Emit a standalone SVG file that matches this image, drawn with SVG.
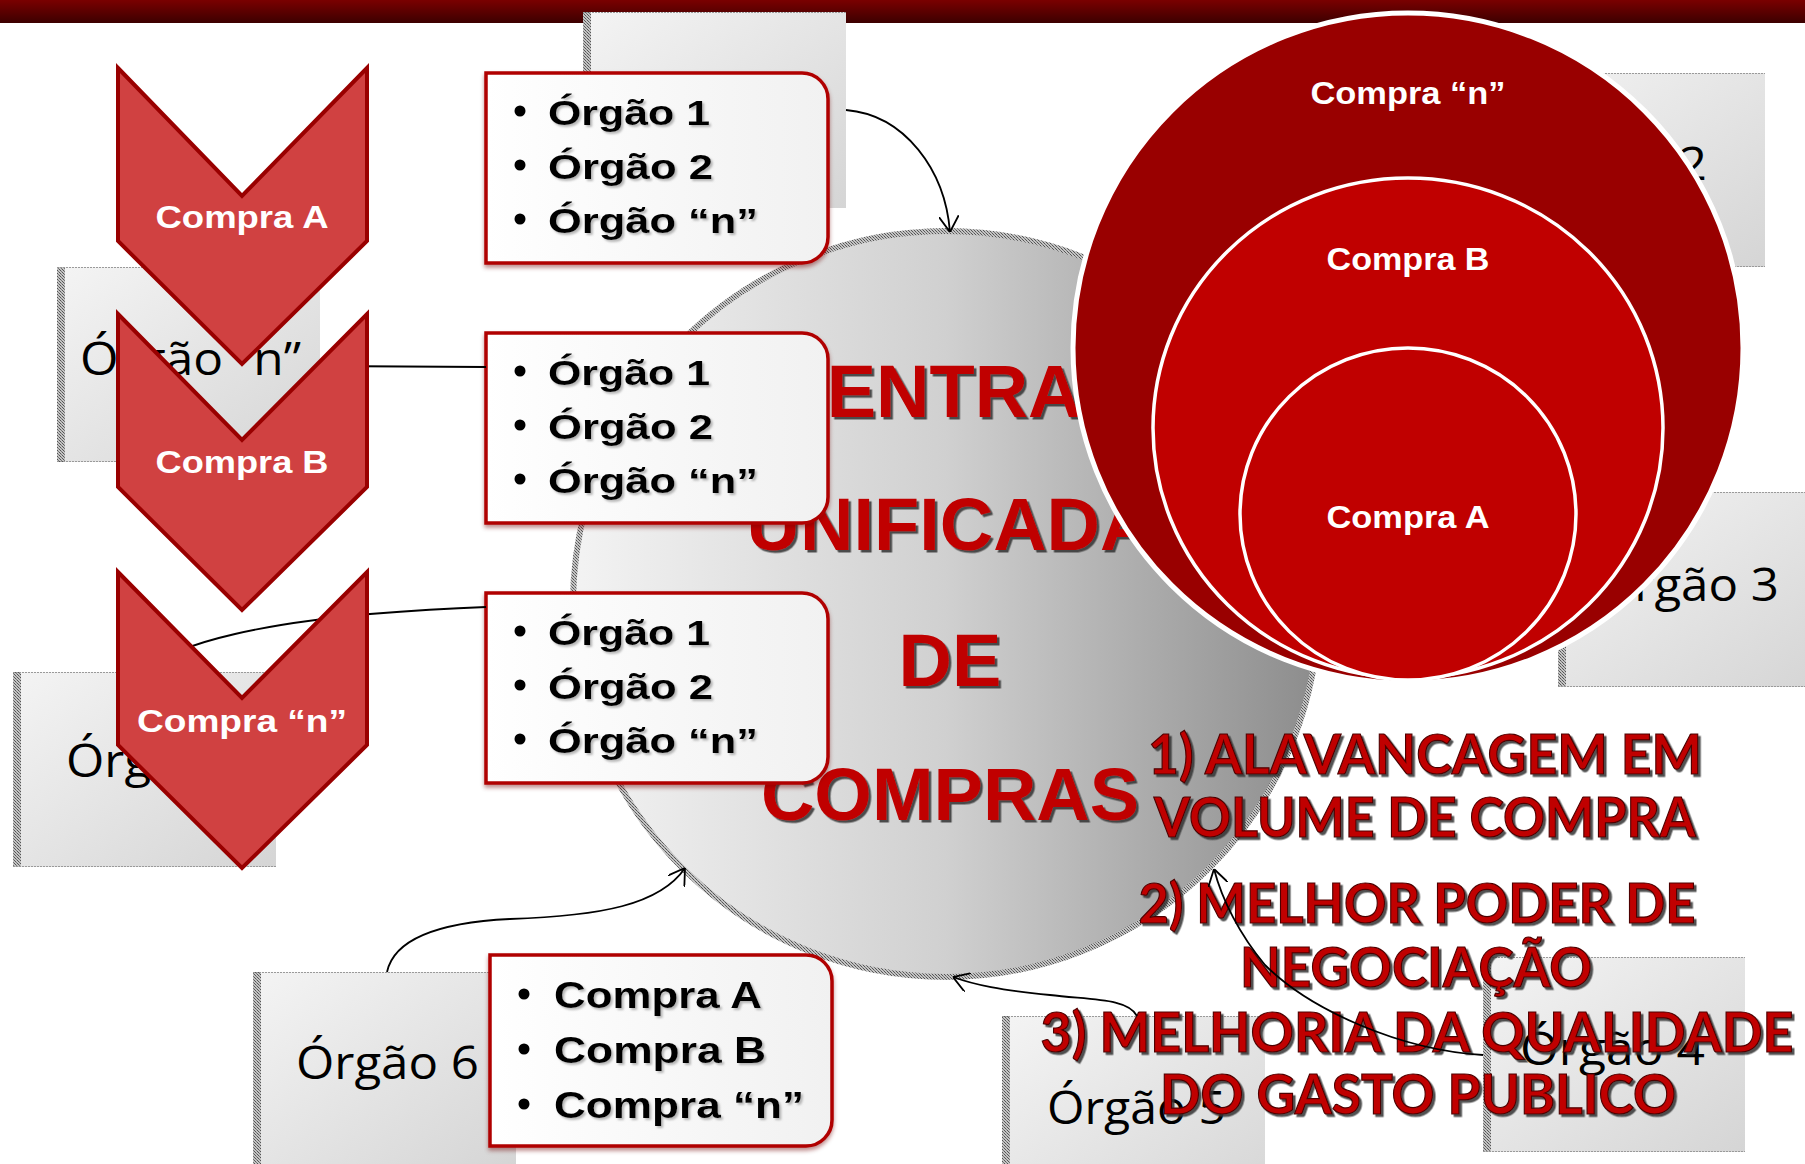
<svg xmlns="http://www.w3.org/2000/svg" width="1805" height="1164" viewBox="0 0 1805 1164">
<defs>
  <linearGradient id="barGrad" x1="0" y1="0" x2="0" y2="1">
    <stop offset="0" stop-color="#7a0000"/>
    <stop offset="1" stop-color="#3c0000"/>
  </linearGradient>
  <linearGradient id="boxGrad" x1="0" y1="0" x2="1" y2="1">
    <stop offset="0" stop-color="#f4f4f4"/>
    <stop offset="1" stop-color="#d5d5d5"/>
  </linearGradient>
  <linearGradient id="circGrad" x1="0" y1="0" x2="1" y2="0">
    <stop offset="0" stop-color="#f3f3f3"/>
    <stop offset="0.5" stop-color="#d0d0d0"/>
    <stop offset="1" stop-color="#8c8c8c"/>
  </linearGradient>
  <linearGradient id="listGrad" x1="0" y1="0" x2="1" y2="0">
    <stop offset="0" stop-color="#ffffff"/>
    <stop offset="1" stop-color="#f1f1f1"/>
  </linearGradient>
  <pattern id="hatch" width="3" height="3" patternUnits="userSpaceOnUse">
    <rect width="3" height="3" fill="#c4c4c4"/>
    <rect width="1" height="1" fill="#555"/>
    <rect x="1" y="1" width="1" height="1" fill="#777"/>
    <rect x="2" y="2" width="1" height="1" fill="#555"/>
  </pattern>
  <marker id="arrow" viewBox="0 0 16 20" refX="16" refY="10" markerWidth="16" markerHeight="20" markerUnits="userSpaceOnUse" orient="auto">
    <path d="M0,0 L16,10 L0,20" fill="none" stroke="#000" stroke-width="1.8"/>
  </marker>
  <filter id="tshadow" x="-5%" y="-20%" width="115%" height="150%">
    <feDropShadow dx="2.5" dy="2.5" stdDeviation="0.6" flood-color="#333" flood-opacity="0.85"/>
  </filter>
  <filter id="lshadow" x="-5%" y="-20%" width="115%" height="150%">
    <feDropShadow dx="2" dy="2" stdDeviation="1" flood-color="#888" flood-opacity="0.6"/>
  </filter>
  <filter id="bshadow" x="-5%" y="-5%" width="115%" height="115%">
    <feDropShadow dx="0" dy="3" stdDeviation="2" flood-color="#700000" flood-opacity="0.45"/>
  </filter>
</defs>
<style>
  .obox { fill: url(#boxGrad); }
  .ostrip { fill: url(#hatch); }
  .oedge { stroke: #9a9a9a; stroke-width: 1; stroke-dasharray: 2 1; }
  .otext { font-family: "Open Sans", "Noto Sans", sans-serif; font-size: 46px; fill: #000; }
  .big { font-family: "Liberation Sans", Arial, sans-serif; font-weight: bold; font-size: 74px; fill: #c00000; text-anchor: middle; filter: url(#tshadow); }
  .list { fill: url(#listGrad); stroke: #b00000; stroke-width: 3.5; filter: url(#bshadow); }
  .ltext { font-family: "Liberation Sans", Arial, sans-serif; font-weight: bold; font-size: 35px; fill: #000; filter: url(#lshadow); }
  .ctext { font-size: 37px; }
  .bul { fill: #000; }
  .red { font-family: Lato, "Open Sans", sans-serif; font-weight: bold; font-size: 56px; fill: #c00000; stroke: #4d0000; stroke-width: 1.2; text-anchor: middle; filter: url(#tshadow); }
  .conn { fill: none; stroke: #000; stroke-width: 1.8; }
  .chev { fill: #d04141; stroke: #990000; stroke-width: 4; stroke-linejoin: miter; }
  .wlabel { font-family: "Liberation Sans", Arial, sans-serif; font-weight: bold; fill: #fff; text-anchor: middle; }
  .rc { stroke: #fff; }
</style>

<rect width="1805" height="1164" fill="#fff"/>
<rect id="top-bar" x="0" y="0" width="1805" height="23" fill="url(#barGrad)"/>

<g id="orgao-1">
  <rect class="obox" x="583" y="12" width="263" height="196"/>
  <rect class="ostrip" x="583" y="12" width="8" height="196"/>
  <line class="oedge" x1="583" y1="12.5" x2="846" y2="12.5"/>
</g>
<g id="orgao-2">
  <rect class="obox" x="1503" y="73" width="262" height="194"/>
  <line class="oedge" x1="1503" y1="73.5" x2="1765" y2="73.5"/>
  <line class="oedge" x1="1503" y1="266.5" x2="1765" y2="266.5"/>
  <text class="otext" x="1524" y="180" textLength="183" lengthAdjust="spacingAndGlyphs">Órgão 2</text>
</g>
<g id="orgao-3">
  <rect class="obox" x="1558" y="492" width="262" height="195"/>
  <rect class="ostrip" x="1558" y="492" width="8" height="195"/>
  <line class="oedge" x1="1558" y1="492.5" x2="1805" y2="492.5"/>
  <line class="oedge" x1="1558" y1="686.5" x2="1805" y2="686.5"/>
  <text class="otext" x="1596" y="601" textLength="183" lengthAdjust="spacingAndGlyphs">Órgão 3</text>
</g>
<g id="orgao-4">
  <rect class="obox" x="1483" y="957" width="262" height="195"/>
  <rect class="ostrip" x="1483" y="957" width="8" height="195"/>
  <line class="oedge" x1="1483" y1="957.5" x2="1745" y2="957.5"/>
  <line class="oedge" x1="1483" y1="1151.5" x2="1745" y2="1151.5"/>
  <text class="otext" x="1520" y="1065" textLength="185" lengthAdjust="spacingAndGlyphs">Órgão 4</text>
</g>
<g id="orgao-5">
  <rect class="obox" x="1002" y="1016" width="263" height="195"/>
  <rect class="ostrip" x="1002" y="1016" width="8" height="195"/>
  <line class="oedge" x1="1002" y1="1016.5" x2="1265" y2="1016.5"/>
  <text class="otext" x="1047" y="1124" textLength="179" lengthAdjust="spacingAndGlyphs">Órgão 5</text>
</g>
<g id="orgao-6">
  <rect class="obox" x="253" y="972" width="263" height="195"/>
  <rect class="ostrip" x="253" y="972" width="8" height="195"/>
  <line class="oedge" x1="253" y1="972.5" x2="516" y2="972.5"/>
  <text class="otext" x="296" y="1079" textLength="183" lengthAdjust="spacingAndGlyphs">Órgão 6</text>
</g>
<g id="orgao-7">
  <rect class="obox" x="13" y="672" width="263" height="195"/>
  <rect class="ostrip" x="13" y="672" width="8" height="195"/>
  <line class="oedge" x1="13" y1="672.5" x2="276" y2="672.5"/>
  <line class="oedge" x1="13" y1="866.5" x2="276" y2="866.5"/>
  <text class="otext" x="66" y="777" textLength="183" lengthAdjust="spacingAndGlyphs">Órgão 7</text>
</g>
<g id="orgao-n">
  <rect class="obox" x="57" y="267" width="263" height="195"/>
  <rect class="ostrip" x="57" y="267" width="8" height="195"/>
  <line class="oedge" x1="57" y1="267.5" x2="320" y2="267.5"/>
  <line class="oedge" x1="57" y1="461.5" x2="320" y2="461.5"/>
  <text class="otext" x="80" y="375" textLength="221" lengthAdjust="spacingAndGlyphs">Órgão “n”</text>
</g>

<g id="central">
  <circle cx="946" cy="604" r="373" fill="url(#circGrad)" stroke="url(#hatch)" stroke-width="6"/>
  <text class="big" x="950" y="417">CENTRAL</text>
  <text class="big" x="950" y="550">UNIFICADA</text>
  <text class="big" x="950" y="686">DE</text>
  <text class="big" x="950" y="820">COMPRAS</text>
</g>

<g id="lista-1">
  <path class="list" d="M486,73 H802 A26,26 0 0 1 828,99 V237 A26,26 0 0 1 802,263 H486 Z"/>
  <circle class="bul" cx="520" cy="111" r="5.5"/>
  <circle class="bul" cx="520" cy="165" r="5.5"/>
  <circle class="bul" cx="520" cy="219" r="5.5"/>
  <text class="ltext" x="548" y="125" textLength="162" lengthAdjust="spacingAndGlyphs">Órgão 1</text>
  <text class="ltext" x="548" y="179" textLength="165" lengthAdjust="spacingAndGlyphs">Órgão 2</text>
  <text class="ltext" x="548" y="233" textLength="210" lengthAdjust="spacingAndGlyphs">Órgão “n”</text>
</g>
<g id="lista-2">
  <path class="list" d="M486,333 H802 A26,26 0 0 1 828,359 V497 A26,26 0 0 1 802,523 H486 Z"/>
  <circle class="bul" cx="520" cy="371" r="5.5"/>
  <circle class="bul" cx="520" cy="425" r="5.5"/>
  <circle class="bul" cx="520" cy="479" r="5.5"/>
  <text class="ltext" x="548" y="385" textLength="162" lengthAdjust="spacingAndGlyphs">Órgão 1</text>
  <text class="ltext" x="548" y="439" textLength="165" lengthAdjust="spacingAndGlyphs">Órgão 2</text>
  <text class="ltext" x="548" y="493" textLength="210" lengthAdjust="spacingAndGlyphs">Órgão “n”</text>
</g>
<g id="lista-3">
  <path class="list" d="M486,593 H802 A26,26 0 0 1 828,619 V757 A26,26 0 0 1 802,783 H486 Z"/>
  <circle class="bul" cx="520" cy="631" r="5.5"/>
  <circle class="bul" cx="520" cy="685" r="5.5"/>
  <circle class="bul" cx="520" cy="739" r="5.5"/>
  <text class="ltext" x="548" y="645" textLength="162" lengthAdjust="spacingAndGlyphs">Órgão 1</text>
  <text class="ltext" x="548" y="699" textLength="165" lengthAdjust="spacingAndGlyphs">Órgão 2</text>
  <text class="ltext" x="548" y="753" textLength="210" lengthAdjust="spacingAndGlyphs">Órgão “n”</text>
</g>
<g id="lista-compras">
  <path class="list" d="M490,955 H806 A26,26 0 0 1 832,981 V1120 A26,26 0 0 1 806,1146 H490 Z"/>
  <circle class="bul" cx="524" cy="994" r="5.5"/>
  <circle class="bul" cx="524" cy="1049" r="5.5"/>
  <circle class="bul" cx="524" cy="1104" r="5.5"/>
  <text class="ltext ctext" x="554" y="1008" textLength="208" lengthAdjust="spacingAndGlyphs">Compra A</text>
  <text class="ltext ctext" x="554" y="1063" textLength="212" lengthAdjust="spacingAndGlyphs">Compra B</text>
  <text class="ltext ctext" x="554" y="1118" textLength="250" lengthAdjust="spacingAndGlyphs">Compra “n”</text>
</g>

<g id="beneficios">
  <text class="red" x="1425" y="774" textLength="554" lengthAdjust="spacingAndGlyphs">1) ALAVANCAGEM EM</text>
  <text class="red" x="1425" y="837" textLength="542" lengthAdjust="spacingAndGlyphs">VOLUME DE COMPRA</text>
  <text class="red" x="1417" y="923" textLength="557" lengthAdjust="spacingAndGlyphs">2) MELHOR PODER DE</text>
  <text class="red" x="1416" y="987" textLength="352" lengthAdjust="spacingAndGlyphs">NEGOCIAÇÃO</text>
  <text class="red" x="1417" y="1052" textLength="753" lengthAdjust="spacingAndGlyphs">3) MELHORIA DA QUALIDADE</text>
  <text class="red" x="1418" y="1114" textLength="516" lengthAdjust="spacingAndGlyphs">DO GASTO PUBLICO</text>
</g>

<g id="connectors">
  <path class="conn" d="M846,110 C905,115 945,170 950,232" marker-end="url(#arrow)"/>
  <path class="conn" d="M320,366 L486,367"/>
  <path class="conn" d="M145,672 C175,640 280,622 370,614 C420,610 460,608 486,607"/>
  <path class="conn" d="M387,972 C395,935 450,922 510,919 C600,916 660,905 685,868" marker-end="url(#arrow)"/>
  <path class="conn" d="M1137,1016 C1128,998 1090,1000 1050,995 C1000,990 975,985 953,977" marker-end="url(#arrow)"/>
  <path class="conn" d="M1483,1055 C1400,1050 1310,1010 1265,965 C1240,935 1222,900 1214,869" marker-end="url(#arrow)"/>
</g>

<g id="chevron-compra-a">
  <polygon class="chev" points="118,68 242,196 367,68 367,241 242,364 118,241"/>
  <text class="wlabel" x="242" y="228" font-size="32" textLength="173" lengthAdjust="spacingAndGlyphs">Compra A</text>
</g>
<g id="chevron-compra-b">
  <polygon class="chev" points="118,314 242,440 367,314 367,487 242,610 118,487"/>
  <text class="wlabel" x="242" y="473" font-size="32" textLength="173" lengthAdjust="spacingAndGlyphs">Compra B</text>
</g>
<g id="chevron-compra-n">
  <polygon class="chev" points="118,572 242,698 367,572 367,745 242,868 118,745"/>
  <text class="wlabel" x="242" y="732" font-size="32" textLength="210" lengthAdjust="spacingAndGlyphs">Compra “n”</text>
</g>

<g id="circulo-compra-n">
  <circle class="rc" cx="1408" cy="348" r="335" fill="#990000" stroke-width="5"/>
  <text class="wlabel" x="1408" y="104" font-size="31" textLength="195" lengthAdjust="spacingAndGlyphs">Compra “n”</text>
</g>
<g id="circulo-compra-b">
  <ellipse class="rc" cx="1408" cy="428" rx="255" ry="250" fill="#c00000" stroke-width="3.5"/>
  <text class="wlabel" x="1408" y="270" font-size="31" textLength="163" lengthAdjust="spacingAndGlyphs">Compra B</text>
</g>
<g id="circulo-compra-a">
  <ellipse class="rc" cx="1408" cy="514" rx="168" ry="166" fill="#c00000" stroke-width="3.5"/>
  <text class="wlabel" x="1408" y="528" font-size="31" textLength="163" lengthAdjust="spacingAndGlyphs">Compra A</text>
</g>
</svg>
